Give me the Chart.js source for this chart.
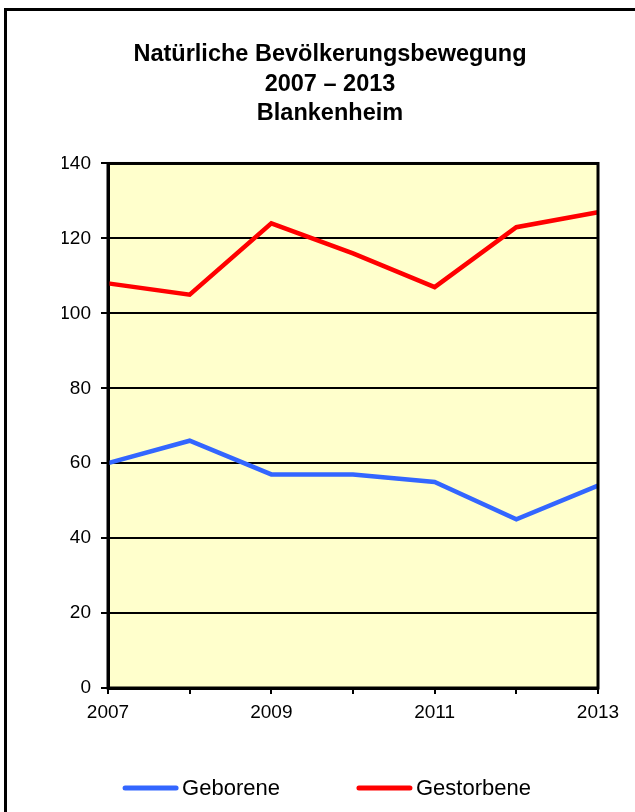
<!DOCTYPE html>
<html lang="de">
<head>
<meta charset="UTF-8">
<title>Natürliche Bevölkerungsbewegung</title>
<script src="https://cdn.jsdelivr.net/npm/chart.js"></script>
<style>
  html, body { margin: 0; padding: 0; background: #fff; overflow: hidden; width: 635px; height: 812px; }
  #rahmen { position: absolute; left: 4px; top: 8px; width: 700px; height: 900px; border: 3px solid #000; box-sizing: border-box; }
  #wrap { position: absolute; left: 0; top: 0; width: 648px; height: 812px; }
</style>
</head>
<body>
<div id="rahmen"></div>
<div id="wrap"><canvas id="myChart" width="648" height="812"></canvas></div>
<script>
  const jahre = ['2007', '2008', '2009', '2010', '2011', '2012', '2013']
  const geborene = [60, 66, 57, 57, 55, 45, 54]
  const gestorbene = [108, 105, 124, 116, 107, 123, 127]
  const yMax = 140
  const yStep = 20

  const schrift = "'Liberation Sans', Arial, sans-serif"

  // Hintergrund und Rahmen der Zeichenfläche
  const flaeche = {
    id: 'flaeche',
    beforeDraw(chart) {
      const a = chart.chartArea, c = chart.ctx
      c.save()
      c.fillStyle = '#ffffcc'
      c.fillRect(a.left, a.top, a.right - a.left, a.bottom - a.top)
      c.restore()
    },
    afterDraw(chart) {
      const a = chart.chartArea, c = chart.ctx
      c.save()
      c.strokeStyle = '#000'
      c.lineWidth = 3
      c.strokeRect(a.left, a.top, a.right - a.left, a.bottom - a.top)
      c.restore()
    }
  }

  // Legende unten, wie im Original: Linie, kleiner Abstand, Text
  const legende = {
    id: 'legende',
    afterDraw(chart) {
      const c = chart.ctx
      const linie = 55, luecke = 4, abstand = 77, mitteX = 327, y = 788
      c.save()
      c.font = '22px ' + schrift
      c.textBaseline = 'middle'
      const sets = chart.data.datasets
      let gesamt = 0
      sets.forEach((d, i) => {
        gesamt += linie + luecke + c.measureText(d.label).width
        if (i < sets.length - 1) gesamt += abstand
      })
      let x = mitteX - gesamt / 2
      sets.forEach(d => {
        c.strokeStyle = d.borderColor
        c.lineWidth = 5
        c.lineCap = 'round'
        c.beginPath()
        c.moveTo(x + 2, y)
        c.lineTo(x + linie - 2, y)
        c.stroke()
        x += linie + luecke
        c.fillStyle = '#000'
        c.fillText(d.label, x, y + 1)
        x += c.measureText(d.label).width + abstand
      })
      c.restore()
    }
  }

  const ctx = document.getElementById('myChart')
  const myChart = new Chart(ctx, {
    type: 'line',
    data: {
      labels: jahre,
      datasets: [{
        label: 'Geborene',
        data: geborene,
        borderColor: '#3366ff',
        backgroundColor: '#3366ff',
        borderWidth: 4.5,
        pointRadius: 0,
        tension: 0
      }, {
        label: 'Gestorbene',
        data: gestorbene,
        borderColor: '#ff0000',
        backgroundColor: '#ff0000',
        borderWidth: 4.5,
        pointRadius: 0,
        tension: 0
      }]
    },
    options: {
      responsive: false,
      animation: false,
      layout: { padding: { left: 62, right: 50, top: 0, bottom: 94 } },
      plugins: {
        title: {
          display: true,
          text: ['Natürliche Bevölkerungsbewegung', '2007 – 2013', 'Blankenheim'],
          color: '#000',
          font: { family: schrift, size: 23.5, weight: 'bold', lineHeight: 1.255 },
          padding: { top: 40, bottom: 35 }
        },
        legend: { display: false },
        tooltip: { enabled: false }
      },
      scales: {
        x: {
          offset: false,
          border: { display: true, color: '#000', width: 3 },
          grid: { drawOnChartArea: false, drawTicks: true, tickLength: 6, color: '#000', lineWidth: 2 },
          ticks: {
            color: '#000',
            font: { family: schrift, size: 19 },
            autoSkip: false,
            maxRotation: 0,
            padding: 7,
            callback: function (v, i) { return i % 2 === 0 ? jahre[i] : '' }
          },
          afterFit: s => { s.height = 30 }
        },
        y: {
          min: 0,
          max: yMax,
          border: { display: true, color: '#000', width: 3 },
          grid: { color: '#000', lineWidth: 2, drawTicks: true, tickLength: 7 },
          ticks: {
            stepSize: yStep,
            color: '#000',
            font: { family: schrift, size: 19 },
            padding: 10
          },
          afterFit: s => { s.width = 46 }
        }
      }
    },
    plugins: [flaeche, legende]
  })
</script>
</body>
</html>
